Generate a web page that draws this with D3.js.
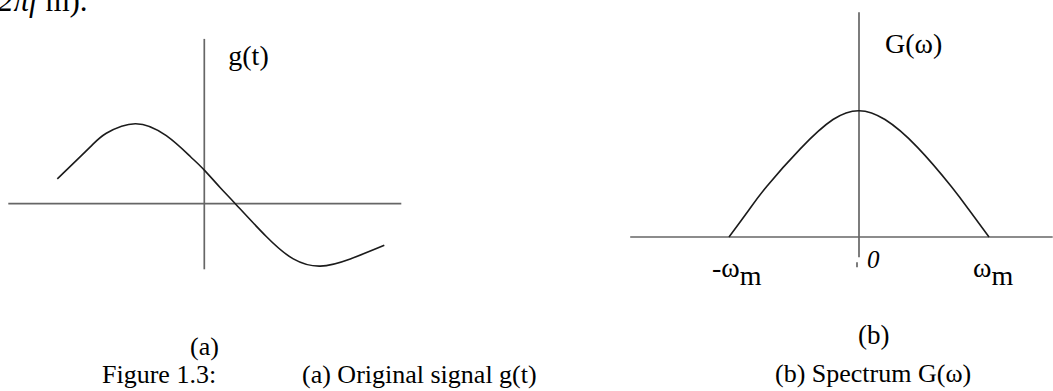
<!DOCTYPE html>
<html>
<head>
<meta charset="utf-8" />
<script src="https://d3js.org/d3.v7.min.js"></script>
<style>
  body { margin: 0; background: #fff; }
  text { font-family: "Liberation Serif", "Times New Roman", serif; fill: #000; }
</style>
</head>
<body>
<svg id="viz"></svg>
<script>
var width = 1053, height = 391;

// (a) original signal g(t)
var sigT = [-1.47, -1.14, -0.98, -0.69, -0.38, -0.14, 0, 0.16, 0.31, 0.62, 0.89, 1.16, 1.46, 1.80];
var sigG = [0.31, 0.71, 0.88, 1.0, 0.85, 0.59, 0.42, 0.20, 0.0, -0.41, -0.69, -0.78, -0.69, -0.52];
var sigTAxis = [-1.96, 1.97];
var sigGAxis = [-0.82, 2.06];

// (b) spectrum G(w)
var specW = [-1, -0.85, -0.71, -0.45, -0.2, 0, 0.2, 0.45, 0.71, 0.85, 1];
var specG = [0, 0.21, 0.40, 0.70, 0.93, 1.0, 0.93, 0.71, 0.40, 0.21, 0];
var specWAxis = [-1.76, 1.49];
var specGAxis = [-0.16, 1.78];
var specGStub = [-0.2, -0.24];
var specTicks = [
  {w: -1, label: "-ω", sub: "m"},
  {w: 0, label: "0", sub: ""},
  {w: 1, label: "ω", sub: "m"}
];

var svg = d3.select("#viz")
    .attr("width", width)
    .attr("height", height);

svg.append("rect").attr("width", width).attr("height", height).attr("fill", "#fff");

var xA = d3.scaleLinear().domain([-2, 2]).range([4.3, 404.3]);
var yA = d3.scaleLinear().domain([0, 1]).range([203.7, 123.7]);
var xB = d3.scaleLinear().domain([-1, 1]).range([729, 989]);
var yB = d3.scaleLinear().domain([0, 1]).range([237, 110.7]);

var axisColor = "#666", curveColor = "#1b1b1b";

function axisLine(g, x1, y1, x2, y2) {
  g.append("line")
    .attr("x1", x1).attr("y1", y1).attr("x2", x2).attr("y2", y2)
    .attr("stroke", axisColor).attr("stroke-width", 1.7);
}

// panel (a)
var pa = svg.append("g");
axisLine(pa, xA(sigTAxis[0]), yA(0), xA(sigTAxis[1]), yA(0));
axisLine(pa, xA(0), yA(sigGAxis[0]), xA(0), yA(sigGAxis[1]));

var lineA = d3.line()
    .x(function(d, i) { return xA(sigT[i]); })
    .y(function(d) { return yA(d); })
    .curve(d3.curveNatural);

pa.append("path")
    .attr("d", lineA(sigG))
    .attr("fill", "none")
    .attr("stroke", curveColor)
    .attr("stroke-width", 1.6);

pa.append("text")
    .attr("x", xA(0) + 24).attr("y", 65)
    .attr("font-size", 28)
    .text("g(t)");

// panel (b)
var pb = svg.append("g");
axisLine(pb, xB(specWAxis[0]), yB(0), xB(specWAxis[1]), yB(0));
axisLine(pb, xB(0), yB(specGAxis[0]), xB(0), yB(specGAxis[1]));
axisLine(pb, xB(0) - 2, yB(specGStub[0]), xB(0) - 2, yB(specGStub[1]));

var lineB = d3.line()
    .x(function(d, i) { return xB(specW[i]); })
    .y(function(d) { return yB(d); })
    .curve(d3.curveNatural);

pb.append("path")
    .attr("d", lineB(specG))
    .attr("fill", "none")
    .attr("stroke", curveColor)
    .attr("stroke-width", 1.6);

pb.append("text")
    .attr("x", xB(0) + 26).attr("y", 53)
    .attr("font-size", 28)
    .text("G(ω)");

specTicks.forEach(function(t) {
  if (t.sub) {
    var tx = pb.append("text")
        .attr("x", xB(t.w) + (t.w < 0 ? -17 : -16))
        .attr("y", 277)
        .attr("font-size", 28);
    tx.append("tspan").text(t.label);
    tx.append("tspan").attr("dy", 8).text(t.sub);
  } else {
    pb.append("text")
        .attr("x", xB(t.w) + 8).attr("y", 268)
        .attr("font-size", 25)
        .attr("font-style", "italic")
        .text(t.label);
  }
});

// text around the figure (top line is cut by the page edge, as in the source)
var topLine = svg.append("text").attr("x", -2).attr("y", 11).attr("font-size", 31);
topLine.append("tspan").attr("font-style", "italic").text("2πf");
topLine.append("tspan").text(" m).");

svg.append("text").attr("x", 190).attr("y", 355).attr("font-size", 26).text("(a)");
svg.append("text").attr("x", 858).attr("y", 344).attr("font-size", 27).text("(b)");
svg.append("text").attr("x", 102).attr("y", 383).attr("font-size", 26).text("Figure 1.3:");
svg.append("text").attr("x", 302).attr("y", 383).attr("font-size", 26).text("(a) Original signal g(t)");
svg.append("text").attr("x", 775).attr("y", 382).attr("font-size", 26).text("(b) Spectrum G(ω)");
</script>
</body>
</html>
